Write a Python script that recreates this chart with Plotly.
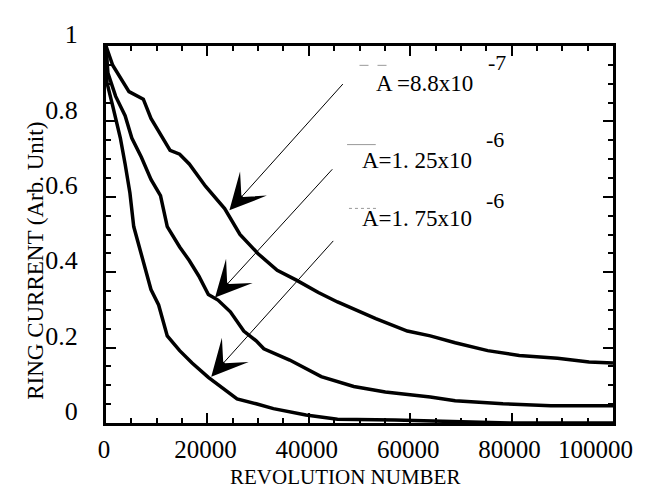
import plotly.graph_objects as go

# ---- data ----
rev_top = [0, 1320, 4530, 7360, 8870, 10750, 12640, 14530, 16420, 19620, 23400, 26420,
           30000, 33770, 37550, 41890, 45660, 53210, 59430, 63960, 68870, 75280, 81510,
           89060, 95280, 100000]
cur_top = [1.0, 0.949, 0.879, 0.859, 0.808, 0.764, 0.723, 0.713, 0.687, 0.628, 0.569, 0.50,
           0.449, 0.405, 0.379, 0.346, 0.321, 0.277, 0.244, 0.231, 0.213, 0.192, 0.179,
           0.172, 0.162, 0.159]

rev_mid = [0, 380, 1890, 3770, 5090, 6980, 8870, 10750, 12080, 14530, 16420, 18300, 20190,
           22080, 24530, 27170, 29620, 31130, 36230, 42450, 48870, 55090, 63960, 68870,
           78300, 87740, 100000]
cur_mid = [1.0, 0.928, 0.867, 0.815, 0.756, 0.705, 0.646, 0.603, 0.521, 0.467, 0.431, 0.390,
           0.341, 0.326, 0.295, 0.244, 0.218, 0.197, 0.167, 0.123, 0.097, 0.082, 0.069,
           0.059, 0.051, 0.046, 0.046]

rev_bot = [0, 190, 1320, 2830, 3770, 4720, 5470, 6980, 7920, 8870, 10380, 11320, 12080,
           14530, 16980, 20190, 23400, 25850, 29620, 33020, 39430, 45660, 56980, 68870,
           79620, 100000]
cur_bot = [1.0, 0.903, 0.841, 0.756, 0.687, 0.610, 0.521, 0.449, 0.405, 0.354, 0.313, 0.269,
           0.231, 0.192, 0.159, 0.121, 0.090, 0.064, 0.051, 0.038, 0.021, 0.010, 0.008,
           0.005, 0.0, 0.0]

series_names = ["A=8.8x10^-7", "A=1.25x10^-6", "A=1.75x10^-6"]
label_main = ["A =8.8x10", "A=1. 25x10", "A=1. 75x10"]
label_exp = ["-7", "-6", "-6"]

x_tick_vals = [0, 20000, 40000, 60000, 80000, 100000]
x_tick_labels = ["0", "20000", "40000", "60000", "80000", "100000"]
y_tick_vals = [0, 0.2, 0.4, 0.6, 0.8, 1]
y_tick_labels = ["0", "0.2", "0.4", "0.6", "0.8", "1"]

# ---- layout geometry (pixels) ----
W, H = 668, 496
L, R, T, B = 98, 40, 25, 81
PW, PH = W - L - R, H - T - B


def px(xp):
    return (xp - L) / PW


def py(yp):
    return (H - B - yp) / PH


FONT = "Liberation Serif"
NBSP = "\u00a0"

# the last x label sits a little left of its tick (as in the reference):
# trailing no-break spaces shift the centred label to the left
x_tick_text = [t + (NBSP * 5 if i == len(x_tick_labels) - 1 else "")
               for i, t in enumerate(x_tick_labels)]

fig = go.Figure()
for xs, ys, nm in zip([rev_top, rev_mid, rev_bot], [cur_top, cur_mid, cur_bot], series_names):
    fig.add_trace(go.Scatter(x=xs, y=ys, mode="lines", name=nm,
                             line=dict(color="black", width=3.5), showlegend=False))

annotations = []
# labels
lab_pos = [(378, 64, 495, 42), (363, 143, 493, 122), (363, 203, 493, 185)]
for (lx, ly, ex, ey), m, e in zip(lab_pos, label_main, label_exp):
    annotations.append(dict(xref="paper", yref="paper", x=px(lx), y=py(ly), text=m,
                            showarrow=False, xanchor="left", yanchor="middle",
                            font=dict(family=FONT, size=23, color="black")))
    annotations.append(dict(xref="paper", yref="paper", x=px(ex), y=py(ey), text=e,
                            showarrow=False, xanchor="left", yanchor="middle",
                            font=dict(family=FONT, size=22, color="black")))

# arrows (tip, tail) in data coordinates
arrows = [((24340, 0.564), (46980, 0.903)),
          ((21510, 0.333), (44906, 0.677)),
          ((20755, 0.123), (45094, 0.487))]
for (tx, ty), (sx, sy) in arrows:
    annotations.append(dict(x=tx, y=ty, ax=sx, ay=sy, xref="x", yref="y",
                            axref="x", ayref="y", text="", showarrow=True,
                            arrowhead=3, arrowsize=6, arrowwidth=1,
                            arrowcolor="black", standoff=0, startstandoff=0))

# axis titles
annotations.append(dict(xref="paper", yref="paper", x=px(348), y=py(471),
                        text="REVOLUTION NUMBER", showarrow=False,
                        xanchor="center", yanchor="middle",
                        font=dict(family=FONT, size=21, color="black")))
annotations.append(dict(xref="paper", yref="paper", x=px(24), y=py(247),
                        text="RING CURRENT (Arb. Unit)", showarrow=False,
                        textangle=-90, xanchor="center", yanchor="middle",
                        font=dict(family=FONT, size=23, color="black")))

shapes = []
dash_marks = [((363, 392, 45), "dash"), ((350, 380, 127), "solid"), ((352, 382, 193), "dot")]
for (x0, x1, yy), dsh in dash_marks:
    shapes.append(dict(type="line", xref="paper", yref="paper",
                       x0=px(x0), x1=px(x1), y0=py(yy), y1=py(yy),
                       line=dict(color="#999999", width=1, dash=dsh)))

axis_common = dict(showgrid=False, zeroline=False, showline=True, linecolor="black",
                   linewidth=3, mirror="allticks", ticks="inside", ticklen=10,
                   tickwidth=2, tickcolor="black", ticklabeloverflow="allow")

fig.update_layout(
    width=W, height=H,
    margin=dict(l=L, r=R, t=T, b=B),
    paper_bgcolor="white", plot_bgcolor="white",
    xaxis=dict(range=[0, 100000], tickvals=x_tick_vals, ticktext=x_tick_text,
               minor=dict(dtick=5000, ticks="inside", ticklen=5, tickwidth=2,
                          tickcolor="black"),
               tickfont=dict(family=FONT, size=25, color="black"),
               ticklabelstandoff=2, ticklabelshift=-2, **axis_common),
    yaxis=dict(range=[0, 1], tickvals=y_tick_vals, ticktext=y_tick_labels,
               minor=dict(dtick=0.05, ticks="inside", ticklen=5, tickwidth=2,
                          tickcolor="black"),
               tickfont=dict(family=FONT, size=26, color="black"),
               ticklabelstandoff=20, ticklabelshift=-12, **axis_common),
    annotations=annotations,
    shapes=shapes,
    showlegend=False,
)

fig.write_html("out.html")
